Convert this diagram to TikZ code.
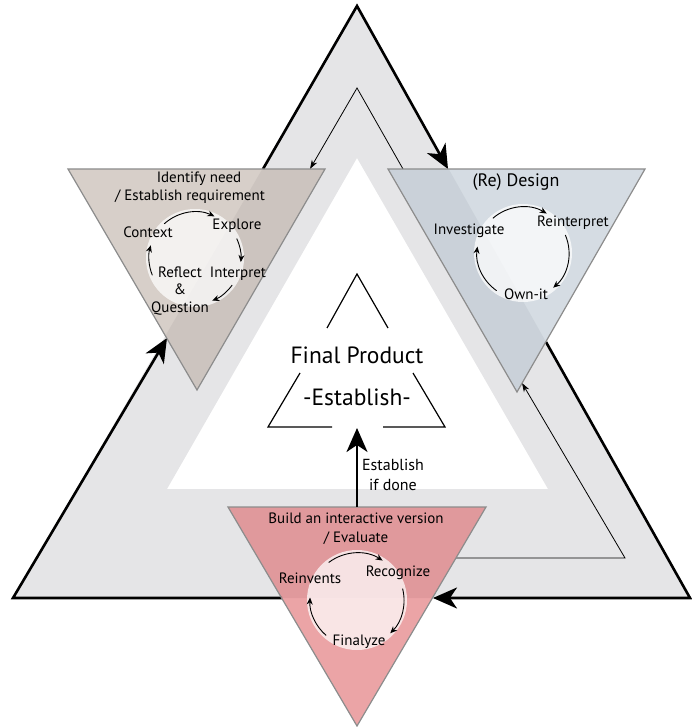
\documentclass[tikz,border=0pt]{standalone}
\usepackage{fontspec}
\setmainfont{PT Sans}
\usetikzlibrary{calc,arrows.meta}

\definecolor{bandgray}{RGB}{229,229,231}
\definecolor{needtan}{RGB}{188,175,165}
\definecolor{designblue}{RGB}{185,197,208}
\definecolor{buildred}{RGB}{222,103,107}
\definecolor{edgegray}{RGB}{140,140,140}

\def\cyclearc[#1](#2)(#3:#4:#5){\draw[#1] ($(#2)+({#5*cos(#3)},{#5*sin(#3)})$) arc (#3:#4:#5);}

\tikzset{
  bigarrow/.style={line width=2.6pt, -{Stealth[length=24pt,width=21pt,inset=7pt]}},
  backarrow/.style={line width=0.8pt, -{Stealth[length=9pt,width=6pt]}},
  stage/.style={draw=edgegray, line width=1.2pt, fill opacity=0.6},
  hub/.style={fill=white, fill opacity=0.72},
  cyclearrow/.style={line width=0.9pt, -{Stealth[length=7pt,width=6pt]}},
  stagetitle/.style={font=\fontsize{15}{19}\selectfont, align=center},
  steptext/.style={font=\fontsize{15}{17.5}\selectfont, align=center}
}

\begin{document}
\begin{tikzpicture}[x=1pt,y=-1pt]
		\useasboundingbox (0,0) rectangle (691,727);
		%%%%% corners %%%%%
		\coordinate (apex) at (357,6);
		\coordinate (lcorner) at (13,598);
		\coordinate (rcorner) at (690,598);
		\coordinate (iapex) at (357,158);
		\coordinate (ileft) at (167,489);
		\coordinate (iright) at (548,489);
		
		% band round the centre
		\fill[bandgray, even odd rule] (apex) -- (lcorner) -- (rcorner) -- cycle
			(iapex) -- (ileft) -- (iright) -- cycle;
		
		%%%%% main cycle %%%%%
		\coordinate (bin) at (282,598);
		\coordinate (nin) at (167,338);
		\coordinate (nout) at (263,169);
		\coordinate (din) at (448,169);
		\coordinate (dout) at (546,342);
		\coordinate (bout) at (433,598);
		\draw[bigarrow] (bin) -- (lcorner) -- (nin);
		\draw[bigarrow] (nout) -- (apex) -- (din);
		\draw[bigarrow] (dout) -- (rcorner) -- (bout);
		
		%%%%% way back %%%%%
		\coordinate (dtop) at (403,169);
		\coordinate (fapex) at (357,88);
		\coordinate (ntop) at (310,169);
		\coordinate (bside) at (456,558);
		\coordinate (fcorner) at (625,558);
		\coordinate (dtip) at (522,383);
		\draw[backarrow] (dtop) -- (fapex) -- (ntop);
		\draw[backarrow] (bside) -- (fcorner) -- (dtip);
		
		%%%%% stages %%%%%
		\filldraw[stage, fill=needtan] (68,169) -- (325,169) -- (197,390) -- cycle;
		\filldraw[stage, fill=designblue] (388,169) -- (645,169) -- (517,392) -- cycle;
		\filldraw[stage, fill=buildred] (228,507) -- (486,507) -- (357,726) -- cycle;
		
		\fill[hub] (195,258) circle (49);
		\fill[hub] (523,253) circle (49);
		\fill[hub] (357,600) circle (50);
		
		% identify need
		\node[stagetitle] (need) at (199,179) {Identify need};
		\node[stagetitle] (require) at (190,197) {/ Establish requirement};
		\node[steptext] (context) at (148,232) {Context};
		\node[steptext] (explore) at (237,226) {Explore};
		\node[steptext] (interpret) at (238,274) {Interpret};
		\node[steptext] (reflect) at (180,291) {Reflect\\\&\\Question};
		\cyclearc[cyclearrow](195,258)(-132:-65:46);
		\cyclearc[cyclearrow](195,258)(-25:5:46);
		\cyclearc[cyclearrow](195,258)(36:68:46);
		\cyclearc[cyclearrow](195,258)(158:196:46);
		
		% (re) design
		\node[stagetitle, font=\fontsize{18}{22}\selectfont] (design) at (516,182) {(Re) Design};
		\node[steptext] (investigate) at (469,231) {Investigate};
		\node[steptext] (reinterpret) at (573,223) {Reinterpret};
		\node[steptext] (ownit) at (526,294) {Own-it};
		\cyclearc[cyclearrow](523,253)(-131:-59:46);
		\cyclearc[cyclearrow](523,253)(-23:49:46);
		\cyclearc[cyclearrow](523,253)(125:188:46);
		
		% build
		\node[stagetitle] (build) at (356,529) {Build an interactive version\\/ Evaluate};
		\node[steptext] (reinvents) at (310,578) {Reinvents};
		\node[steptext] (recognize) at (398,573) {Recognize};
		\node[steptext] (finalyze) at (359,642) {Finalyze};
		\cyclearc[cyclearrow](357,600)(-127:-57:47);
		\cyclearc[cyclearrow](357,600)(-14:45:47);
		\cyclearc[cyclearrow](357,600)(131:183:47);
		
		%%%%% final product %%%%%
		\draw[line width=1.2pt] (327,328) -- (357,274) -- (388,328);
		\draw[line width=1.2pt] (300,373) -- (268,427) -- (332,427);
		\draw[line width=1.2pt] (413,373) -- (445,427) -- (383,427);
		\node[font=\fontsize{23.5}{28}\selectfont] (product) at (357,355) {Final Product};
		\node[font=\fontsize{23.5}{28}\selectfont] (establish) at (357,397) {-Establish-};
		
		\coordinate (done) at (357,507);
		\coordinate (ptip) at (357,428);
		\draw[bigarrow] (done) -- (ptip);
		\node[font=\fontsize{16}{20}\selectfont, align=center] (ifdone) at (393,475) {Establish\\if done};
\end{tikzpicture}
\end{document}
